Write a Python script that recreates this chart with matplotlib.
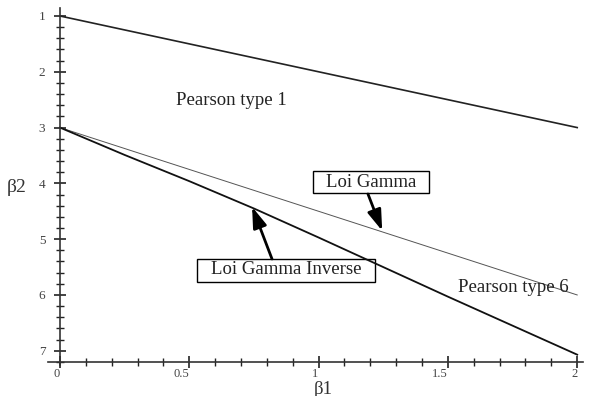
import numpy as np
import matplotlib
matplotlib.use("Agg")
from matplotlib import pyplot as plt
from matplotlib.patches import Rectangle
from matplotlib.ticker import MultipleLocator

plt.rcParams['font.family'] = ['Liberation Serif', 'DejaVu Serif']

# lower limit beta2 = 1 + beta1
limit_b1 = [0.0, 2.0]
limit_b2 = [1.0, 3.0]

# gamma line
gamma_b1 = [0.0, 2.0]
gamma_b2 = [3.0, 6.0]

# inverse gamma (type V) curve
invgamma_b1 = [0.0, 0.25, 0.5, 0.75, 1.0, 1.25, 1.5, 1.75, 2.0]
invgamma_b2 = [3.0, 3.49, 3.96, 4.45, 4.97, 5.50, 6.03, 6.55, 7.07]

x_ticks = [0, 0.5, 1, 1.5, 2]
x_tick_labels = ["0", "0.5", "1", "1.5", "2"]
y_ticks = [1, 2, 3, 4, 5, 6, 7]

fig = plt.figure(figsize=(5.9, 3.96), dpi=100)
ax = fig.add_axes([0.0814, 0.0783, 0.907, 0.9015])

ax.plot(limit_b1, limit_b2, color="#222222", lw=1.2)
ax.plot(gamma_b1, gamma_b2, color="#555555", lw=0.7)
ax.plot(invgamma_b1, invgamma_b2, color="#111111", lw=1.3)

ax.set_xlim(-0.046, 2.023)
ax.set_ylim(7.255, 0.857)

for s in ["top", "right"]:
    ax.spines[s].set_visible(False)
ax.spines["left"].set_position(("data", 0))
ax.spines["bottom"].set_position(("data", 7.2))
ax.spines["left"].set_linewidth(1.2)
ax.spines["bottom"].set_linewidth(1.2)
ax.spines["left"].set_color("#333333")
ax.spines["bottom"].set_color("#333333")

ax.set_xticks(x_ticks)
ax.set_xticklabels(x_tick_labels, ha="right")
ax.set_yticks(y_ticks)
ax.xaxis.set_minor_locator(MultipleLocator(0.1))
ax.yaxis.set_minor_locator(MultipleLocator(0.2))
ax.tick_params(axis="both", which="major", direction="inout", length=9, width=1.2,
               labelsize=9.5, color="#222222", labelcolor="#444444", pad=1)
ax.tick_params(axis="both", which="minor", direction="inout", length=6, width=1.0,
               color="#222222")
ax.tick_params(axis="x", which="major", labelsize=9, pad=0)
ax.tick_params(axis="y", which="major", pad=6)

ax.text(0.449, 2.52, "Pearson type 1", fontsize=13.5, va="center", ha="left", color="#222222")
ax.text(1.540, 5.86, "Pearson type 6", fontsize=13.5, va="center", ha="left", color="#222222")

fig.text(17 / 590, 1 - 187 / 396, "β2", fontsize=14, ha="center", va="center", color="#333333")
fig.text(323 / 590, 1 - 389 / 396, "β1", fontsize=13.5, ha="center", va="center", color="#333333")

# label boxes, drawn in data units
ax.add_patch(Rectangle((0.979, 3.78), 0.449, 0.39, fill=False, ec="black", lw=1.0))
ax.text(1.203, 3.98, "Loi Gamma", fontsize=13.5, ha="center", va="center", color="#222222")
ax.add_patch(Rectangle((0.530, 5.355), 0.689, 0.41, fill=False, ec="black", lw=1.0))
ax.text(0.874, 5.55, "Loi Gamma Inverse", fontsize=13.5, ha="center", va="center",
        color="#222222")

arrow = dict(arrowstyle="-|>,head_length=0.9,head_width=0.3", lw=2, color="black",
             mutation_scale=14, shrinkA=0, shrinkB=0)
ax.annotate("", xy=(1.246, 4.85), xytext=(1.191, 4.19), arrowprops=arrow)
ax.annotate("", xy=(0.743, 4.42), xytext=(0.820, 5.355), arrowprops=arrow)

fig.savefig("out.png", dpi=100)
